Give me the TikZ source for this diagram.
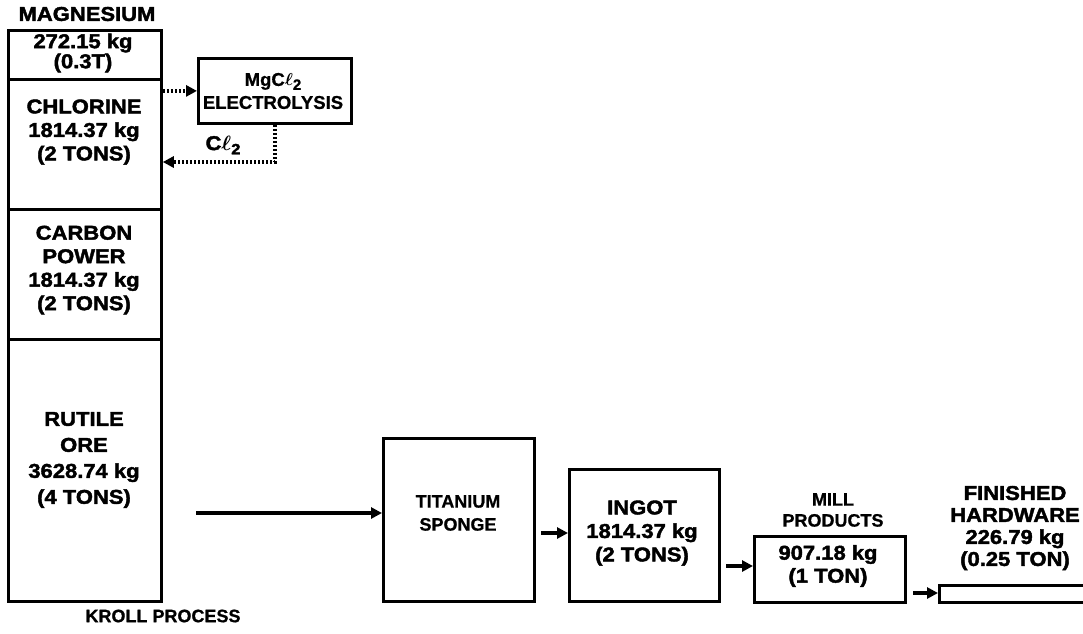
\documentclass[tikz,border=0pt]{standalone}
\usepackage{fontspec}
\setmainfont{Liberation Sans}[FakeStretch=1.1, BoldFeatures={FakeBold=2}]
\newfontfamily\nf{Liberation Sans}[BoldFeatures={FakeBold=0.8}]
\usetikzlibrary{arrows.meta}
\begin{document}
\begin{tikzpicture}[x=1pt,y=-1pt,
 box/.style={draw, line width=2.8pt, inner sep=0pt, anchor=north west},
 big/.style={font=\fontsize{20}{23.5}\selectfont\bfseries, align=center, inner sep=0pt},
 sm/.style={font=\nf\fontsize{18}{22}\selectfont\bfseries, align=center, inner sep=0pt},
 arr/.style={line width=3.2pt, -{Triangle[length=11pt,width=11pt]}},
 dotarr/.style={line width=3.2pt, dash pattern=on 2.4pt off 1.6pt, -{Triangle[length=11pt,width=11pt]}}
]
\useasboundingbox (0,0) rectangle (1083,633);
% left column
\node[box, minimum width=153pt, minimum height=49pt] (mgbox) at (7,29) {};
\node[box, minimum width=153pt, minimum height=130pt] (clbox) at (7,78) {};
\node[box, minimum width=153pt, minimum height=130pt] (cbox) at (7,208) {};
\node[box, minimum width=153pt, minimum height=262pt] (rbox) at (7,338) {};
\node[big] (mgt) at (87,14) {MAGNESIUM};
\node[big, font=\fontsize{20}{20}\selectfont\bfseries] (mgv) at (83,53) {272.15 kg\\(0.3T)};
\node[big] (clt) at (84,132) {CHLORINE\\1814.37 kg\\(2 TONS)};
\node[big] (ct) at (84,270) {CARBON\\POWER\\1814.37 kg\\(2 TONS)};
\node[big, font=\fontsize{20}{26}\selectfont\bfseries] (rt) at (84,460) {RUTILE\\ORE\\3628.74 kg\\(4 TONS)};
% electrolysis
\node[box, minimum width=153pt, minimum height=65pt] (mgcl) at (197,57) {};
\node[sm, font=\nf\fontsize{18.5}{23}\selectfont\bfseries] (mgclt) at (273,91) {MgC{\boldmath$\ell$}\raisebox{-0.4ex}{\fontsize{15}{15}\selectfont 2}\\ELECTROLYSIS};
\node[big] (cl2) at (223,145) {C{\boldmath$\ell$}\raisebox{-0.4ex}{\fontsize{15}{15}\selectfont 2}};
\draw[dotarr] (clbox.east |- mgcl.west) -- (mgcl.west);
\coordinate (r1) at (275,162);
\draw[dotarr] (mgcl.south -| r1) -- (r1) -- (r1 -| clbox.east);
% process chain
\node[box, minimum width=151pt, minimum height=163pt] (sponge) at (382,437) {};
\node[sm, font=\nf\fontsize{18}{23}\selectfont\bfseries] (spt) at (458,513) {TITANIUM\\SPONGE};
\node[box, minimum width=150pt, minimum height=132pt] (ingot) at (568,468) {};
\node[big] (ingt) at (642,533) {INGOT\\1814.37 kg\\(2 TONS)};
\node[box, minimum width=151pt, minimum height=66pt] (mill) at (753,535) {};
\node[sm, font=\nf\fontsize{18}{21}\selectfont\bfseries] (millt) at (833,510) {MILL\\PRODUCTS};
\node[big, font=\fontsize{20}{23}\selectfont\bfseries] (millv) at (828,566) {907.18 kg\\(1 TON)};
\node[box, minimum width=160pt, minimum height=17pt] (fin) at (938,584) {};
\node[big, font=\fontsize{20}{22}\selectfont\bfseries] (fint) at (1015,528) {FINISHED\\HARDWARE\\226.79 kg\\(0.25 TON)};
\node[sm] (kroll) at (163,616) {KROLL PROCESS};
\coordinate (a1) at (196,513);
\draw[arr] (a1) -- (a1 -| sponge.west);
\coordinate (a2) at (541,533);
\draw[arr] (a2) -- (a2 -| ingot.west);
\coordinate (a3) at (726,566);
\draw[arr] (a3) -- (a3 -| mill.west);
\coordinate (a4) at (913,593);
\draw[arr] (a4) -- (a4 -| fin.west);
\end{tikzpicture}
\end{document}
